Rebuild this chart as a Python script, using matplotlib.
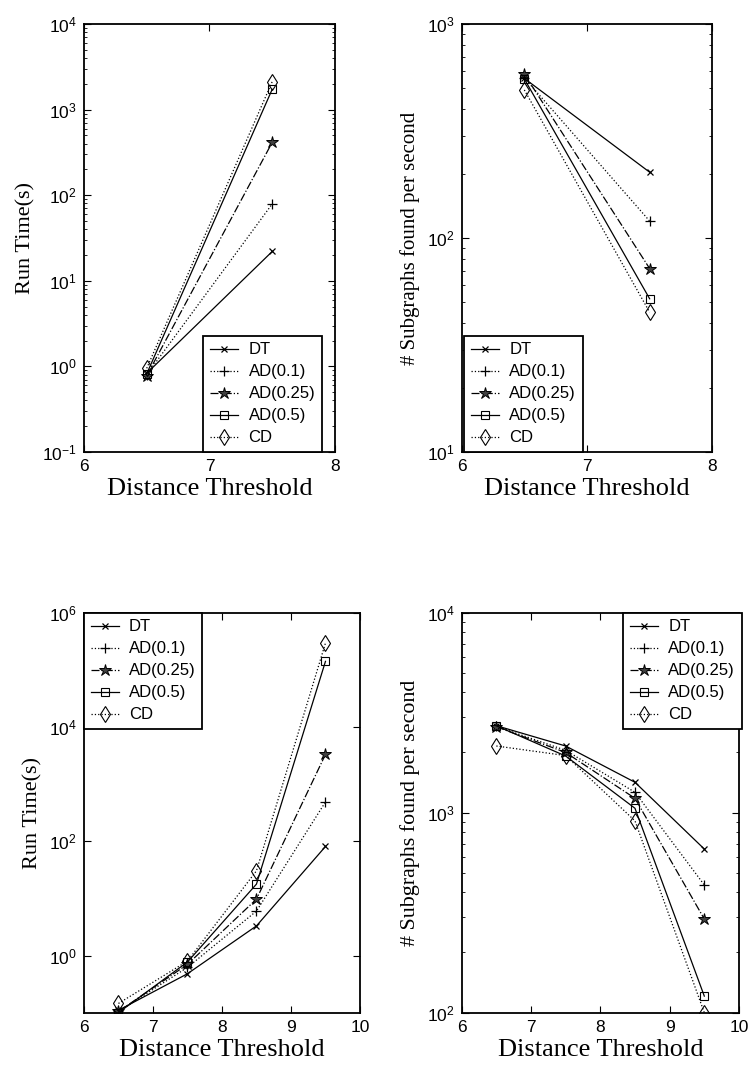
import numpy as np
import matplotlib
matplotlib.use("Agg")
import matplotlib.pyplot as plt
from matplotlib.ticker import LogLocator, NullLocator, FixedLocator

plt.rcParams['font.family'] = ['Liberation Sans', 'DejaVu Sans']
plt.rcParams['mathtext.fontset'] = 'custom'
plt.rcParams['mathtext.rm'] = 'Liberation Sans'
plt.rcParams['mathtext.it'] = 'Liberation Sans:italic'

series = ["DT", "AD(0.1)", "AD(0.25)", "AD(0.5)", "CD"]

# Top row: thresholds 6.5, 7.5
x_top = [6.5, 7.5]
runtime_top = {
    "DT":       [0.83, 22],
    "AD(0.1)":  [0.80, 79],
    "AD(0.25)": [0.78, 414],
    "AD(0.5)":  [0.82, 1726],
    "CD":       [0.95, 2118],
}
rate_top = {
    "DT":       [557, 203],
    "AD(0.1)":  [560, 120],
    "AD(0.25)": [583, 72],
    "AD(0.5)":  [554, 52],
    "CD":       [492, 45],
}

# Bottom row: thresholds 6.5 .. 9.5
x_bot = [6.5, 7.5, 8.5, 9.5]
runtime_bot = {
    "DT":       [0.11, 0.48, 3.3, 81],
    "AD(0.1)":  [0.105, 0.62, 6.0, 487],
    "AD(0.25)": [0.105, 0.70, 9.7, 3311],
    "AD(0.5)":  [0.10, 0.77, 17.8, 140600],
    "CD":       [0.145, 0.80, 30.4, 294500],
}
rate_bot = {
    "DT":       [2723, 2155, 1419, 658],
    "AD(0.1)":  [2700, 2050, 1265, 435],
    "AD(0.25)": [2690, 2000, 1180, 294],
    "AD(0.5)":  [2720, 1920, 1052, 121],
    "CD":       [2155, 1930, 910, 100],
}

styles = {
    "DT":       dict(ls='-',  marker='x', ms=5, mfc='k', mec='k', mew=0.9),
    "AD(0.1)":  dict(ls=':',  marker='+', ms=7, mfc='k', mec='k', mew=0.9),
    "AD(0.25)": dict(ls='-.', marker='*', ms=9, mfc='0.25', mec='k', mew=0.7),
    "AD(0.5)":  dict(ls='-',  marker='s', ms=6, mfc='none', mec='k', mew=0.8),
    "CD":       dict(ls=':',  marker='d', ms=8, mfc='none', mec='k', mew=0.8),
}

fig = plt.figure(figsize=(7.49, 10.91), dpi=100)

def setup(ax, xlim, xticks, ylim, ylabel, ylsize, minor=True, yticks=None):
    ax.set_yscale('log')
    ax.set_xlim(*xlim)
    ax.set_ylim(*ylim)
    ax.set_xticks(xticks)
    ax.set_xticklabels([str(t) for t in xticks])
    if yticks is not None:
        ax.yaxis.set_major_locator(FixedLocator(yticks))
    else:
        ax.yaxis.set_major_locator(LogLocator(base=10, numticks=20))
    if minor:
        ax.yaxis.set_minor_locator(LogLocator(base=10, subs=np.arange(2, 10), numticks=20))
    else:
        ax.yaxis.set_minor_locator(NullLocator())
    ax.tick_params(which='both', direction='in', top=True, right=True, labelsize=12.5)
    ax.tick_params(which='major', length=5, width=0.8, pad=5)
    ax.tick_params(which='minor', length=2.5, width=0.6)
    for s in ax.spines.values():
        s.set_linewidth(1.3)
    ax.set_xlabel("Distance Threshold", fontsize=19, family=['Liberation Serif'], labelpad=3)
    ax.set_ylabel(ylabel, fontsize=ylsize, family=['Liberation Serif'], labelpad=5)

def draw(ax, x, data):
    for name in series:
        ax.plot(x, data[name], color='k', lw=0.9, label=name, **styles[name])

def legend(ax, bbox, loc):
    leg = ax.legend(loc=loc, bbox_to_anchor=bbox, fontsize=12, frameon=True,
                    fancybox=False, framealpha=1, edgecolor='k', handlelength=1.7,
                    handletextpad=0.6, labelspacing=0.42, borderpad=0.4, borderaxespad=0)
    leg.get_frame().set_linewidth(1.3)

# top-left
ax1 = fig.add_axes([0.1121, 0.5857, 0.3351, 0.3923])
draw(ax1, x_top, runtime_top)
setup(ax1, (6, 8), [6, 7, 8], (1e-1, 1e4), "Run Time(s)", 16)
legend(ax1, (0.948, 0.0), 'lower right')

# top-right
ax2 = fig.add_axes([0.6164, 0.5857, 0.3346, 0.3923])
draw(ax2, x_top, rate_top)
setup(ax2, (6, 8), [6, 7, 8], (1e1, 1e3), "# Subgraphs found per second", 15)
legend(ax2, (0.01, 0.0), 'lower left')

# bottom-left
ax3 = fig.add_axes([0.1121, 0.0718, 0.3685, 0.3666])
draw(ax3, x_bot, runtime_bot)
setup(ax3, (6, 10), [6, 7, 8, 9, 10], (1e-1, 1e6), "Run Time(s)", 16, minor=False,
      yticks=[1e0, 1e2, 1e4, 1e6])
legend(ax3, (0.0, 1.0), 'upper left')

# bottom-right
ax4 = fig.add_axes([0.6164, 0.0718, 0.3702, 0.3666])
draw(ax4, x_bot, rate_bot)
setup(ax4, (6, 10), [6, 7, 8, 9, 10], (1e2, 1e4), "# Subgraphs found per second", 15.8)
legend(ax4, (1.01, 1.0), 'upper right')

fig.savefig("out.png", dpi=100)
